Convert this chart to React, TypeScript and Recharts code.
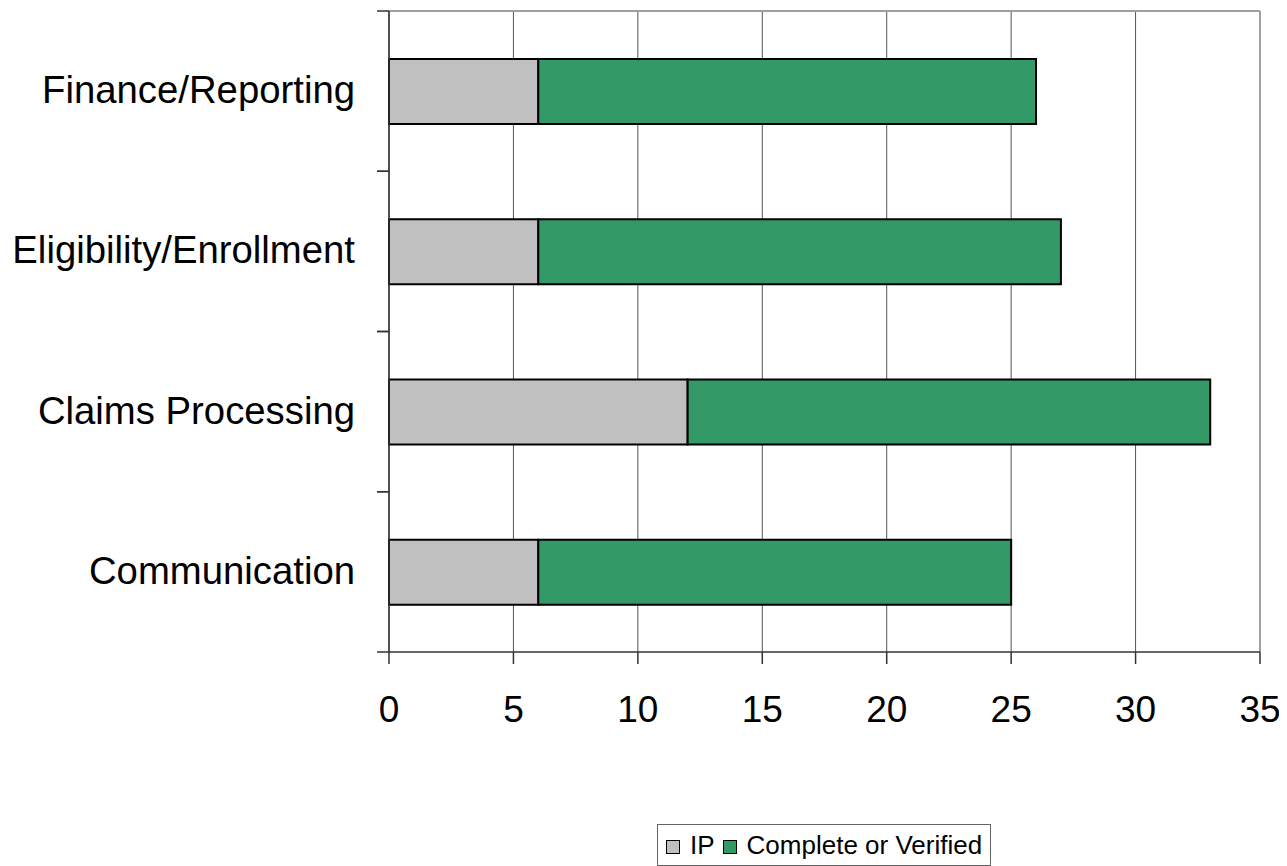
import React from 'react';
import { BarChart, Bar, XAxis, YAxis, CartesianGrid, Legend } from 'recharts';

const categories = ['Finance/Reporting', 'Eligibility/Enrollment', 'Claims Processing', 'Communication'];
const ipValues = [6, 6, 12, 6];
const completeValues = [20, 21, 21, 19];
const xTicks = [0, 5, 10, 15, 20, 25, 30, 35];
const seriesNames = ['IP', 'Complete or Verified'];
const seriesColors = ['#C0C0C0', '#339966'];

const data = categories.map((c, i) => ({ name: c, ip: ipValues[i], complete: completeValues[i] }));

const FONT = '"Liberation Sans", Arial, sans-serif';

const CategoryTick = (props: any) => {
  const { x, y, payload } = props;
  const half = payload && typeof payload.offset === 'number' && payload.offset > 0 ? payload.offset : 80;
  return (
    <g>
      <line x1={x - 12} x2={x} y1={y - half} y2={y - half} stroke="#333" strokeWidth={1.5} />
      <line x1={x - 12} x2={x} y1={y + half} y2={y + half} stroke="#333" strokeWidth={1.5} />
      <text x={x - 34} y={y + 12} textAnchor="end" fontSize={38.3} fontFamily={FONT} fill="#000">
        {payload.value}
      </text>
    </g>
  );
};

const LegendContent = () => (
  <div
    style={{
      boxSizing: 'border-box',
      width: 334,
      height: 42,
      border: '1px solid #666',
      background: '#fff',
      display: 'flex',
      alignItems: 'center',
      paddingLeft: 8,
      fontFamily: FONT,
      fontSize: 26,
      color: '#000',
      whiteSpace: 'nowrap',
    }}
  >
    {seriesNames.map((n, i) => (
      <span key={n} style={{ display: 'flex', alignItems: 'center', marginRight: 8 }}>
        <span
          style={{
            display: 'inline-block',
            width: 14,
            height: 14,
            boxSizing: 'border-box',
            background: seriesColors[i],
            border: '1.5px solid #000',
            marginRight: 10,
            marginTop: 4,
          }}
        />
        <span>{n}</span>
      </span>
    ))}
  </div>
);

export default function App() {
  return (
    <div style={{ width: 1279, height: 858, background: '#fff' }}>
      <BarChart
        width={1279}
        height={858}
        data={data}
        layout="vertical"
        margin={{ top: 3, right: 27, left: 0, bottom: 114 }}
        barSize={65}
      >
        <CartesianGrid horizontal={false} vertical={true} stroke="#555" strokeWidth={1} />
        <CartesianGrid
          stroke="#a0a0a0"
          strokeWidth={2}
          horizontalCoordinatesGenerator={({ offset }: any) => [offset.top]}
          verticalCoordinatesGenerator={({ offset }: any) => [offset.left + offset.width]}
        />
        <XAxis
          type="number"
          domain={[0, 35]}
          ticks={xTicks}
          interval={0}
          height={100}
          axisLine={{ stroke: '#333', strokeWidth: 1.5 }}
          tickLine={{ stroke: '#333', strokeWidth: 1.5 }}
          tickSize={12}
          tickMargin={32}
          tick={{ fontSize: 37, fontFamily: FONT, fill: '#000' }}
        />
        <YAxis
          type="category"
          dataKey="name"
          width={381}
          axisLine={{ stroke: '#333', strokeWidth: 1.5 }}
          tickLine={false}
          tickSize={0}
          tickMargin={0}
          interval={0}
          tick={<CategoryTick />}
        />
        <Legend
          layout="horizontal"
          verticalAlign="middle"
          align="center"
          content={<LegendContent />}
          wrapperStyle={{ top: 816, left: 649, width: 334, height: 42 }}
        />
        <Bar dataKey="ip" name={seriesNames[0]} stackId="a" fill={seriesColors[0]} stroke="#000" strokeWidth={2} isAnimationActive={false} />
        <Bar dataKey="complete" name={seriesNames[1]} stackId="a" fill={seriesColors[1]} stroke="#000" strokeWidth={2} isAnimationActive={false} />
      </BarChart>
    </div>
  );
}
